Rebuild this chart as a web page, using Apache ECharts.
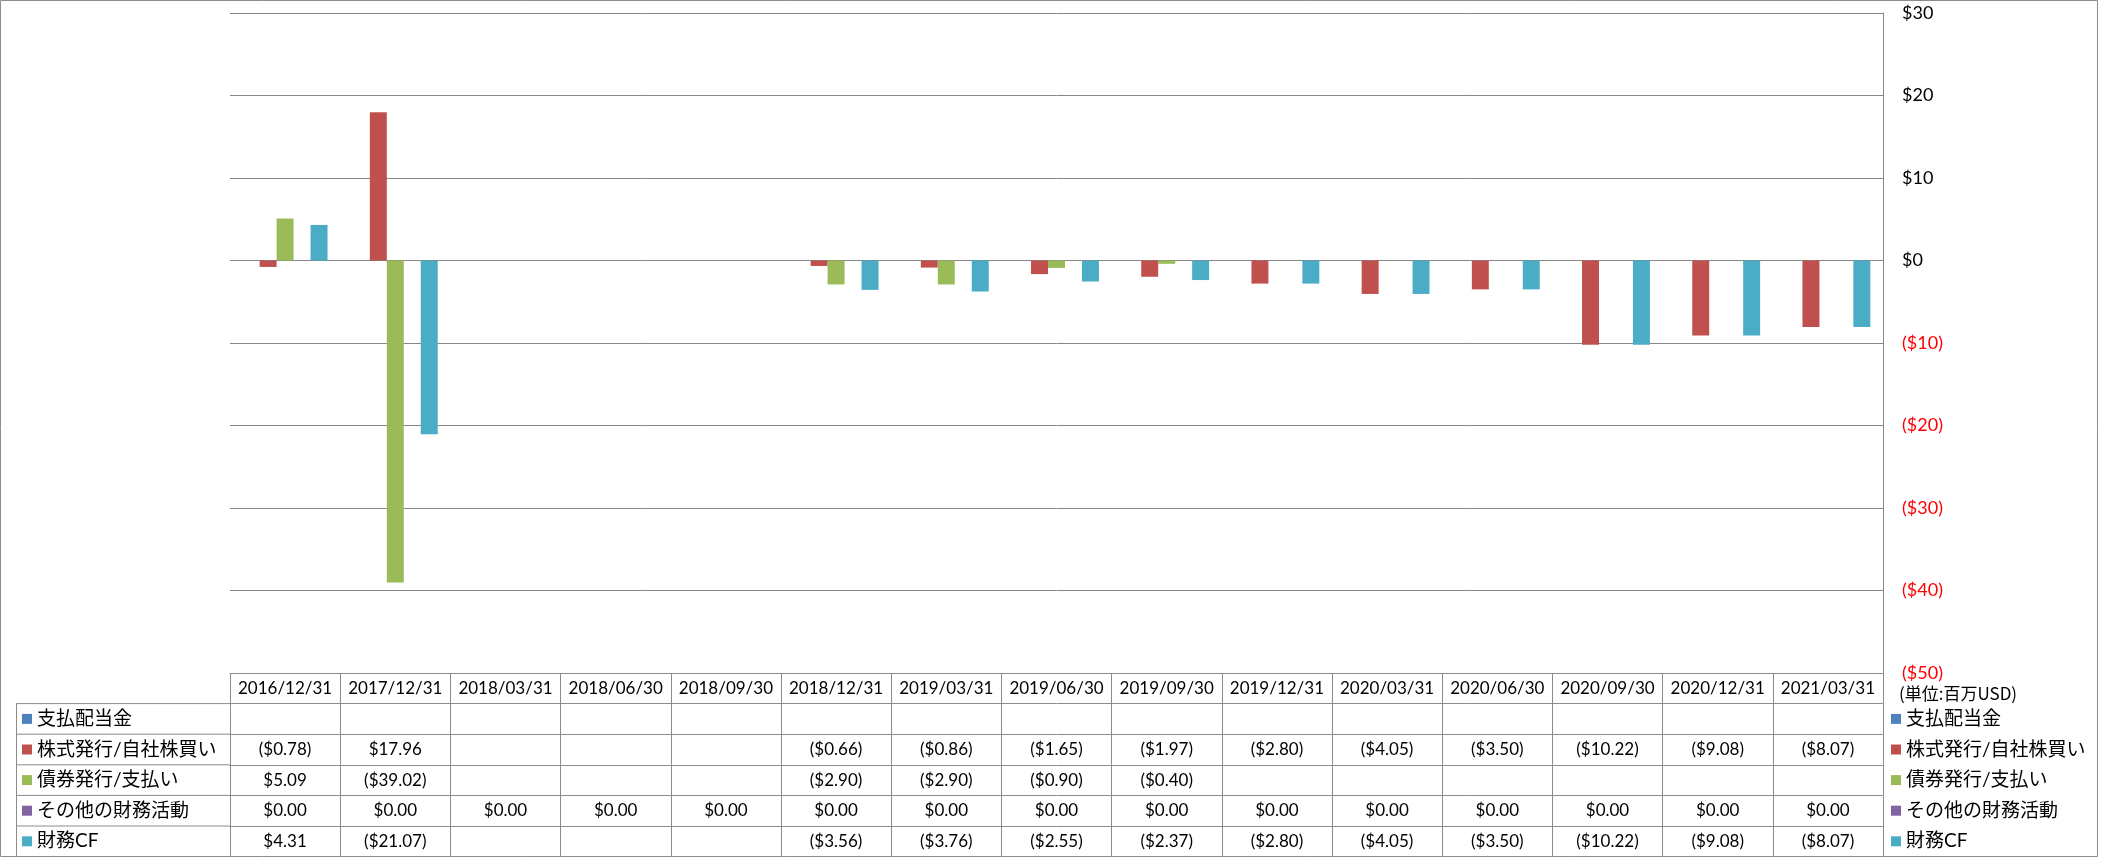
<!DOCTYPE html>
<html>
<head>
<meta charset="utf-8">
<script src="https://cdn.jsdelivr.net/npm/echarts@6/dist/echarts.min.js"></script>
<style>
html,body{margin:0;padding:0;background:#fff;}
#chart{width:2101px;height:858px;}
</style>
</head>
<body>
<div id="chart"></div>
<script>
const categories = ['2016/12/31','2017/12/31','2018/03/31','2018/06/30','2018/09/30','2018/12/31','2019/03/31','2019/06/30','2019/09/30','2019/12/31','2020/03/31','2020/06/30','2020/09/30','2020/12/31','2021/03/31'];
const dividends = [null,null,null,null,null,null,null,null,null,null,null,null,null,null,null];
const stockIssue = [-0.78,17.96,null,null,null,-0.66,-0.86,-1.65,-1.97,-2.80,-4.05,-3.50,-10.22,-9.08,-8.07];
const debtIssue = [5.09,-39.02,null,null,null,-2.90,-2.90,-0.90,-0.40,null,null,null,null,null,null];
const otherFin = [0,0,0,0,0,0,0,0,0,0,0,0,0,0,0];
const finCF = [4.31,-21.07,null,null,null,-3.56,-3.76,-2.55,-2.37,-2.80,-4.05,-3.50,-10.22,-9.08,-8.07];
const seriesNames = ['支払配当金','株式発行/自社株買い','債券発行/支払い','その他の財務活動','財務CF'];
const colors = ['#4F81BD','#C0504D','#9BBB59','#8064A2','#4BACC6'];
const yMin = -50, yMax = 30, yInterval = 10;
const unitLabel = '(単位:百万USD)';

const rows = [dividends, stockIssue, debtIssue, otherFin, finCF];
const FONT = "Lato, 'Noto Sans CJK JP', sans-serif";
const gridLeft = 230, gridTop = 13, gridW = 1653, gridH = 660;
const rowH = 30.6;
const lineCol = '#8c8c8c';

function fmtMoney(v) {
  if (v === null || v === undefined) return '';
  const s = '$' + Math.abs(v).toFixed(2);
  return v < 0 ? '(' + s + ')' : s;
}

const chart = echarts.init(document.getElementById('chart'));

const xAxes = [];
for (let k = 0; k <= rows.length; k++) {
  xAxes.push({
    type: 'category',
    data: categories,
    gridIndex: 0,
    position: 'bottom',
    offset: k * rowH,
    axisLine: { show: true, onZero: false, lineStyle: { color: lineCol, width: 1 } },
    axisTick: { show: true, interval: 0, alignWithLabel: false, length: rowH, lineStyle: { color: lineCol, width: 1 } },
    axisLabel: {
      show: true, interval: 0, hideOverlap: false,
      margin: rowH / 2, verticalAlign: 'middle',
      fontSize: 17, color: '#000', fontFamily: FONT,
      formatter: k === 0 ? (v => v) : ((v, i) => fmtMoney(rows[k - 1][i]))
    },
    splitLine: { show: false }
  });
}

const leftLines = [];
for (let k = 1; k <= rows.length; k++) {
  const y = gridTop + gridH + k * rowH;
  leftLines.push({ type: 'line', shape: { x1: 16, y1: y, x2: gridLeft, y2: y }, style: { stroke: lineCol, lineWidth: 1 }, silent: true });
}
leftLines.push({ type: 'line', shape: { x1: 16.5, y1: gridTop + gridH + rowH, x2: 16.5, y2: 857 }, style: { stroke: lineCol, lineWidth: 1 }, silent: true });

const series = rows.map((d, i) => ({
  name: seriesNames[i],
  type: 'bar',
  data: d,
  barGap: '0%',
  barCategoryGap: '23%',
  itemStyle: { color: colors[i] },
  xAxisIndex: 0,
  yAxisIndex: 0
}));

const legendBase = {
  orient: 'vertical',
  top: gridTop + gridH + rowH,
  itemWidth: 10, itemHeight: 10,
  itemGap: 0,
  padding: 0,
  icon: 'rect',
  selectedMode: false,
  data: seriesNames,
  textStyle: { fontSize: 19, lineHeight: rowH, color: '#000', fontFamily: FONT }
};

chart.setOption({
  animation: false,
  backgroundColor: '#fff',
  color: colors,
  grid: { left: gridLeft, top: gridTop, width: gridW, height: gridH, containLabel: false },
  legend: [
    Object.assign({}, legendBase, { left: 22 }),
    Object.assign({}, legendBase, { left: 1891 })
  ],
  xAxis: xAxes,
  yAxis: {
    type: 'value',
    position: 'right',
    min: yMin, max: yMax, interval: yInterval,
    axisLine: { show: true, lineStyle: { color: lineCol, width: 1 } },
    axisTick: { show: false },
    splitLine: { show: true, lineStyle: { color: '#868686', width: 1 } },
    axisLabel: {
      margin: 19,
      fontSize: 18,
      fontFamily: FONT,
      formatter: v => (v < 0 ? '($' + Math.abs(v) + ')' : '$' + v),
      color: v => (Number(v) < 0 ? '#FF0000' : '#000000')
    }
  },
  graphic: [
    { type: 'rect', shape: { x: 0.5, y: 0.5, width: 2097, height: 856 }, style: { fill: 'none', stroke: lineCol, lineWidth: 1 }, silent: true, z: 100 },
    { type: 'text', left: 1899, top: 685, style: { text: unitLabel, fontSize: 17, fill: '#000', fontFamily: "'Noto Sans CJK JP', sans-serif" }, silent: true }
  ].concat(leftLines),
  series: series
});
</script>
</body>
</html>
